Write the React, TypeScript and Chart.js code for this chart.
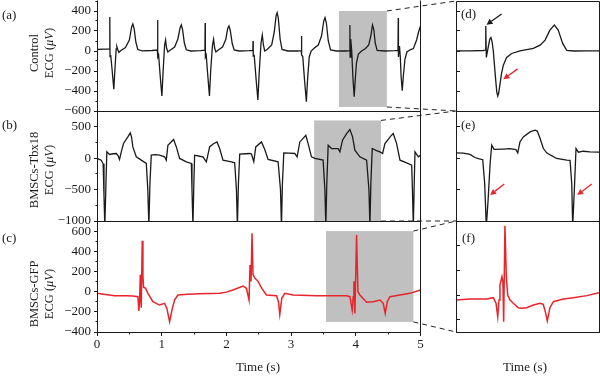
import React, { useEffect, useRef } from 'react';
import { Chart, registerables } from 'chart.js';

Chart.register(...registerables);

type Pt = [number, number];

// ---------------- data ----------------
const timeTicks = [0, 1, 2, 3, 4, 5];
const timeMinorTicks = [0.5, 1.5, 2.5, 3.5, 4.5];

const controlTicks = [-600, -400, -200, 0, 200, 400];
const controlMinorTicks = [-500, -300, -100, 100, 300, 500];
const tbx18Ticks = [-1000, -500, 0, 500];
const tbx18MinorTicks = [-750, -250, 250, 750];
const gfpTicks = [-400, -200, 0, 200, 400, 600];
const gfpMinorTicks = [-300, -100, 100, 300, 500, 700];
const gfpZoomTicks = [-200, 0, 200, 400];

const timeRange = [0, 5];
const controlRange = [-600, 500];
const tbx18Range = [-1000, 750];
const gfpRange = [-400, 700];
const gfpZoomRange = [-300, 600];

// magnified windows: [t0, t1, vLow, vHigh]
const controlWindow = [3.74, 4.48, -560, 400];
const tbx18Window = [3.356, 4.389, -1000, 600];
const gfpWindow = [3.54, 4.89, -300, 600];

const controlTrace: Pt[] = [
  [0, 15], [0.1, 18], [0.194, 20],
  [0.198, 340], [0.201, -57], [0.212, -40], [0.235, -200], [0.26, -383], [0.28, -150], [0.297, 20], [0.307, 43], [0.32, 15], [0.338, -13], [0.37, 5], [0.44, 35], [0.5, 110], [0.535, 240], [0.554, 270], [0.575, 220], [0.6, 90], [0.63, 15], [0.7, 2], [0.85, 5], [0.933, 10],
  [0.937, 310], [0.94, -60], [0.952, -40], [0.978, -260], [1.003, -450], [1.022, -200], [1.045, 60], [1.06, 110], [1.075, 30], [1.095, -10], [1.13, 8], [1.2, 40], [1.25, 120], [1.285, 235], [1.303, 260], [1.322, 215], [1.35, 80], [1.38, 12], [1.45, 0], [1.6, 4], [1.668, 8],
  [1.672, 280], [1.675, -60], [1.688, -40], [1.714, -260], [1.738, -450], [1.757, -200], [1.785, 60], [1.802, 117], [1.818, 30], [1.838, -10], [1.875, 10], [1.94, 40], [1.99, 115], [2.02, 225], [2.04, 250], [2.06, 205], [2.09, 75], [2.12, 10], [2.2, 0], [2.35, 3], [2.408, 5],
  [2.412, 100], [2.415, -50], [2.43, -45], [2.46, -290], [2.487, -490], [2.505, -240], [2.535, 80], [2.555, 160], [2.572, 60], [2.592, 0], [2.63, 15], [2.7, 60], [2.74, 190], [2.768, 350], [2.785, 383], [2.802, 330], [2.83, 120], [2.86, 15], [2.95, 0], [3.1, 0], [3.157, 3],
  [3.161, 150], [3.164, -40], [3.18, -55], [3.21, -310], [3.236, -507], [3.253, -300], [3.28, -60], [3.31, 0], [3.36, 30], [3.42, 60], [3.47, 150], [3.505, 300], [3.525, 333], [3.545, 280], [3.575, 100], [3.61, 10], [3.7, 0], [3.85, 0], [3.905, 3],
  [3.909, 260], [3.912, -60], [3.918, 40], [3.925, 120], [3.937, 0], [3.955, -260], [3.975, -457], [3.99, -300], [4.01, -120], [4.04, -30], [4.09, 0], [4.15, 25], [4.2, 60], [4.232, 150], [4.258, 260], [4.278, 215], [4.3, 80], [4.33, 5], [4.45, 0], [4.6, 3], [4.652, 5],
  [4.656, 330], [4.659, -60], [4.668, 10], [4.675, 50], [4.688, -60], [4.7, -250], [4.718, -397], [4.735, -250], [4.76, -80], [4.79, -10], [4.84, 12], [4.89, 25], [4.94, 110], [4.97, 190], [5.0, 250],
];

const tbx18Trace: Pt[] = [
  [0, -5], [0.065, -32], [0.095, -90], [0.108, -600], [0.121, -1080], [0.136, -500], [0.152, 100], [0.193, 58], [0.25, 70], [0.297, 74], [0.325, 40], [0.348, -21], [0.38, 120], [0.41, 233], [0.477, 338], [0.514, 401], [0.535, 330], [0.554, 179], [0.607, 21], [0.684, -32], [0.762, -85],
  [0.785, -500], [0.802, -1080], [0.818, -400], [0.839, 47], [0.9, 55], [0.967, 47], [1.045, 21], [1.071, -32], [1.096, 206], [1.184, 296], [1.226, 179], [1.277, -5], [1.381, -58], [1.458, -85],
  [1.468, -500], [1.483, -1080], [1.497, -400], [1.509, 47], [1.587, 30], [1.638, 21], [1.69, -58], [1.741, 179], [1.8, 230], [1.855, 258], [1.896, 153], [1.947, -32], [2.077, -58], [2.128, -74],
  [2.155, -500], [2.17, -1080], [2.186, -400], [2.206, 63], [2.3, 70], [2.361, 74], [2.387, 65], [2.423, -58], [2.454, 179], [2.542, 258], [2.593, 137], [2.644, -21], [2.799, -58],
  [2.836, -500], [2.851, -1080], [2.866, -400], [2.887, 84], [2.97, 80], [3.057, 74], [3.093, 21], [3.135, 258], [3.228, 364], [3.263, 232], [3.315, 21], [3.367, -5], [3.495, -32],
  [3.522, -500], [3.537, -1080], [3.552, -400], [3.573, 206], [3.625, 153], [3.728, 153], [3.754, 100], [3.795, 285], [3.858, 391], [3.909, 454], [3.95, 338], [3.986, 127], [4.063, 21], [4.167, -32],
  [4.203, -500], [4.218, -1080], [4.233, -400], [4.254, 153], [4.32, 120], [4.373, 100], [4.415, 74], [4.45, 232], [4.54, 350], [4.579, 391], [4.631, 232], [4.683, -32], [4.786, -74], [4.864, -111],
  [4.875, -500], [4.889, -1080], [4.903, -400], [4.915, 100], [4.966, 21], [5.0, 47],
];

const gfpTrace: Pt[] = [
  [0, -17], [0.1, -25], [0.271, -40], [0.45, -42], [0.554, -43], [0.632, -50], [0.647, -192], [0.658, -100], [0.669, 168], [0.676, 20], [0.684, -159], [0.699, 505], [0.71, 150], [0.72, 44], [0.751, 34], [0.787, -17], [0.864, -100], [0.967, -133], [1.045, -116], [1.08, -166], [1.122, -298], [1.164, -166], [1.2, -80], [1.251, -33], [1.4, -25], [1.587, -20], [1.896, -17], [2.0, -5], [2.102, 16], [2.257, 56], [2.309, 33], [2.35, -83], [2.365, 264], [2.381, 100], [2.396, 578], [2.412, 168], [2.438, 136], [2.489, 102], [2.55, 30], [2.619, -33], [2.774, -40], [2.805, -100], [2.825, -225], [2.856, -66], [2.902, -17], [3.031, -33], [3.393, -40], [3.858, -40], [3.909, -50], [3.944, -183], [3.96, -50], [3.971, 102], [3.986, -216], [4.012, 561], [4.033, -1], [4.063, -33], [4.167, -106], [4.269, -100], [4.373, -83], [4.424, -116], [4.455, -216], [4.486, -100], [4.528, -50], [4.683, -33], [4.837, -17], [5.0, 16],
];

const controlZoom: Pt[] = [
  [3.74, 2], [3.812, 2], [3.881, 5], [3.892, 8], [3.894, 249], [3.897, -65], [3.907, 42], [3.915, 120], [3.921, 136], [3.927, 90], [3.933, 2], [3.944, -259], [3.951, -410], [3.956, -450], [3.961, -420], [3.968, -326], [3.976, -220], [3.985, -142], [4.002, -65], [4.028, -25], [4.071, 2], [4.14, 26], [4.175, 59], [4.201, 109], [4.226, 209], [4.249, 259], [4.269, 209], [4.292, 76], [4.313, 6], [4.35, 0], [4.42, 2], [4.48, 2],
];

const tbx18Zoom: Pt[] = [
  [3.356, 84], [3.409, 80], [3.457, 60], [3.493, 10], [3.524, -12], [3.549, -25], [3.563, -400], [3.575, -1080], [3.587, -700], [3.602, -100], [3.614, 206], [3.631, 140], [3.698, 145], [3.746, 150], [3.789, 135], [3.802, 84], [3.818, 258], [3.842, 338], [3.891, 417], [3.927, 444], [3.943, 430], [3.963, 317], [3.987, 153], [4.011, 84], [4.04, 47], [4.083, -5], [4.156, -32], [4.18, -37], [4.192, -400], [4.199, -1080], [4.211, -500], [4.223, 153], [4.24, 95], [4.276, 110], [4.324, 100], [4.389, 95],
];

const gfpZoom: Pt[] = [
  [3.54, -41], [3.672, -33], [3.83, -33], [3.892, -22], [3.918, -67], [3.934, -176], [3.946, -40], [3.955, 81], [3.974, 148], [3.983, 105], [3.99, -217], [4.002, 562], [4.015, 150], [4.028, 0], [4.05, -41], [4.081, -67], [4.128, -103], [4.16, -108], [4.207, -103], [4.27, -81], [4.333, -67], [4.364, -75], [4.387, -149], [4.402, -211], [4.427, -103], [4.459, -54], [4.553, -33], [4.648, -22], [4.774, -5], [4.868, 14], [4.89, 19],
];

// ---------------- styles / layout ----------------
const SERIF = '"Liberation Serif", "Times New Roman", "DejaVu Serif", serif';
const INK = '#1a1a1a';
const RED = '#e8242a';
const GRAY = '#c0c0c0';
const W = 600;
const H = 376;

type Area = { left: number; top: number; right: number; bottom: number };
type Arrow = { from: Pt; to: Pt; color: string };

const controlZoomArrows: Arrow[] = [
  { from: [3.976, 370], to: [3.898, 262], color: INK },
  { from: [4.059, -179], to: [3.985, -282], color: RED },
];
const tbx18ZoomArrows: Arrow[] = [
  { from: [3.705, -413], to: [3.602, -587], color: RED },
  { from: [4.336, -413], to: [4.232, -587], color: RED },
];

const LEFT_X = [97, 420.5];
const RIGHT_X = [456, 599];
const ROWS = [[1, 111], [111, 221], [221, 332]];

interface PanelSpec {
  trace: Pt[];
  color: string;
  width: number;
  xRange: number[];
  yRange: number[];
  area: Area;
  yMajor: number[];
  yMinor: number[];
  yLabels: boolean;
  xMajor?: number[];
  xMinor?: number[];
  xLabels?: boolean;
  tickDir: number;
  sides: { top: boolean; right: boolean; bottom: boolean; left: boolean };
  window?: number[];
  linkTo?: Chart;
  arrows?: Arrow[];
}

const fmt = (v: number) => (v < 0 ? '\u2212' + Math.abs(v) : String(v));
const crisp = (v: number) => Math.round(v - 0.5) + 0.5;

function makeChart(canvas: HTMLCanvasElement, s: PanelSpec): Chart {
  const yAxisW = 40;
  const xAxisH = 20;
  const padding = {
    left: s.yLabels ? s.area.left - yAxisW : s.area.left,
    top: s.area.top,
    right: W - s.area.right,
    bottom: s.xLabels ? H - s.area.bottom - xAxisH : H - s.area.bottom,
  };
  const decor = {
    id: 'decor',
    beforeDatasetsDraw(chart: any) {
      if (!s.window) return;
      const { ctx, scales } = chart;
      const [t0, t1, v0, v1] = s.window;
      const px0 = scales.x.getPixelForValue(t0);
      const px1 = scales.x.getPixelForValue(t1);
      const py0 = scales.y.getPixelForValue(v1);
      const py1 = scales.y.getPixelForValue(v0);
      ctx.save();
      ctx.fillStyle = GRAY;
      ctx.fillRect(px0, py0, px1 - px0, py1 - py0);
      ctx.restore();
    },
    afterDraw(chart: any) {
      const { ctx, chartArea: a, scales } = chart;
      const x = scales.x;
      const y = scales.y;
      const L = crisp(a.left);
      const R = crisp(a.right);
      const T = crisp(a.top);
      const B = crisp(a.bottom);
      ctx.save();
      ctx.strokeStyle = INK;
      ctx.lineWidth = 1;
      ctx.beginPath();
      if (s.sides.left) { ctx.moveTo(L, s.sides.top ? T : T - 1); ctx.lineTo(L, B); }
      if (s.sides.right) { ctx.moveTo(R, s.sides.top ? T : T - 1); ctx.lineTo(R, B); }
      if (s.sides.top) { ctx.moveTo(L, T); ctx.lineTo(R, T); }
      if (s.sides.bottom) { ctx.moveTo(L - 0.5, B); ctx.lineTo(R + 0.5, B); }
      const yt = (vals: number[], len: number) => {
        vals.forEach((v) => {
          const py = crisp(y.getPixelForValue(v));
          ctx.moveTo(L, py);
          ctx.lineTo(L + s.tickDir * len, py);
        });
      };
      yt(s.yMajor, 3.5);
      yt(s.yMinor, 2);
      const xt = (vals: number[], len: number) => {
        vals.forEach((v) => {
          const px = crisp(x.getPixelForValue(v));
          ctx.moveTo(px, B);
          ctx.lineTo(px, B - s.tickDir * len);
        });
      };
      if (s.xMajor) xt(s.xMajor, 3.5);
      if (s.xMinor) xt(s.xMinor, 2);
      ctx.stroke();

      if (s.window && s.linkTo) {
        const r = s.linkTo.chartArea;
        const [, t1, v0, v1] = s.window;
        const px1 = x.getPixelForValue(t1);
        const pyTop = y.getPixelForValue(v1);
        const pyBot = y.getPixelForValue(v0);
        ctx.setLineDash([5, 4]);
        ctx.lineWidth = 1;
        ctx.strokeStyle = '#222';
        ctx.beginPath();
        ctx.moveTo(px1, pyTop);
        ctx.lineTo(r.left, r.top);
        ctx.moveTo(px1, pyBot);
        ctx.lineTo(r.left, r.bottom);
        ctx.stroke();
        ctx.setLineDash([]);
      }

      (s.arrows || []).forEach((ar) => {
        const x0 = x.getPixelForValue(ar.from[0]);
        const y0 = y.getPixelForValue(ar.from[1]);
        const x1 = x.getPixelForValue(ar.to[0]);
        const y1 = y.getPixelForValue(ar.to[1]);
        const ang = Math.atan2(y1 - y0, x1 - x0);
        const hl = 6;
        const hw = 3;
        const bx = x1 - hl * Math.cos(ang);
        const by = y1 - hl * Math.sin(ang);
        ctx.strokeStyle = ar.color;
        ctx.fillStyle = ar.color;
        ctx.lineWidth = 1.3;
        ctx.beginPath();
        ctx.moveTo(x0, y0);
        ctx.lineTo(bx, by);
        ctx.stroke();
        ctx.beginPath();
        ctx.moveTo(x1, y1);
        ctx.lineTo(bx + hw * Math.sin(ang), by - hw * Math.cos(ang));
        ctx.lineTo(bx - hw * Math.sin(ang), by + hw * Math.cos(ang));
        ctx.closePath();
        ctx.fill();
      });
      ctx.restore();
    },
  };

  const yAll = [...s.yMajor, ...s.yMinor].sort((p, q) => p - q);

  return new Chart(canvas, {
    type: 'line',
    data: {
      datasets: [
        {
          data: s.trace.map(([t, v]) => ({ x: t, y: v })),
          borderColor: s.color,
          borderWidth: s.width,
          pointRadius: 0,
          tension: 0,
          fill: false,
        },
      ],
    },
    options: {
      responsive: false,
      animation: false,
      devicePixelRatio: 1,
      events: [],
      layout: { padding, autoPadding: false },
      plugins: { legend: { display: false }, tooltip: { enabled: false } },
      scales: {
        x: {
          type: 'linear',
          min: s.xRange[0],
          max: s.xRange[1],
          display: !!s.xLabels,
          grid: { display: false, drawTicks: false },
          border: { display: false },
          afterBuildTicks: (sc: any) => {
            sc.ticks = (s.xMajor || []).map((v) => ({ value: v }));
          },
          afterFit: (sc: any) => {
            if (s.xLabels) {
              sc.height = xAxisH;
              sc.paddingLeft = 0;
              sc.paddingRight = 0;
            }
          },
          ticks: {
            padding: 5,
            maxRotation: 0,
            autoSkip: false,
            color: INK,
            font: { family: SERIF, size: 13 },
            callback: (v: any) => fmt(Number(v)),
          },
        },
        y: {
          type: 'linear',
          min: s.yRange[0],
          max: s.yRange[1],
          display: s.yLabels,
          grid: { display: false, drawTicks: false },
          border: { display: false },
          afterBuildTicks: (sc: any) => {
            sc.ticks = yAll.map((v) => ({ value: v }));
          },
          afterFit: (sc: any) => {
            if (s.yLabels) {
              sc.width = yAxisW;
              sc.paddingTop = 0;
              sc.paddingBottom = 0;
            }
          },
          ticks: {
            padding: 6,
            autoSkip: false,
            color: INK,
            font: { family: SERIF, size: 13 },
            callback: (v: any) => (s.yMajor.includes(Number(v)) ? fmt(Number(v)) : ''),
          },
        },
      },
    } as any,
    plugins: [decor as any],
  });
}

const leftArea = (i: number): Area => ({ left: LEFT_X[0], right: LEFT_X[1], top: ROWS[i][0], bottom: ROWS[i][1] });
const rightArea = (i: number): Area => ({ left: RIGHT_X[0], right: RIGHT_X[1], top: ROWS[i][0], bottom: ROWS[i][1] });

const abs = (extra: React.CSSProperties): React.CSSProperties => ({ position: 'absolute', whiteSpace: 'nowrap', ...extra });

function YTitle({ cx, cy, first }: { cx: number; cy: number; first: string }) {
  return (
    <div
      style={abs({
        left: cx - 60,
        top: cy - 15,
        width: 120,
        height: 30,
        fontSize: 12.5,
        lineHeight: '15px',
        textAlign: 'center',
        transform: 'rotate(-90deg)',
      })}
    >
      {first}
      <br />
      ECG (<i>μV</i>)
    </div>
  );
}

export default function App() {
  const r0 = useRef<HTMLCanvasElement>(null);
  const r1 = useRef<HTMLCanvasElement>(null);
  const r2 = useRef<HTMLCanvasElement>(null);
  const r3 = useRef<HTMLCanvasElement>(null);
  const r4 = useRef<HTMLCanvasElement>(null);
  const r5 = useRef<HTMLCanvasElement>(null);
  const refs = [r0, r1, r2, r3, r4, r5];

  useEffect(() => {
    const allSides = { top: true, right: true, bottom: true, left: true };
    const leftSides = { top: false, right: true, bottom: true, left: true };
    const d = makeChart(r3.current!, {
      trace: controlZoom, color: INK, width: 1.3, xRange: [controlWindow[0], controlWindow[1]], yRange: controlRange,
      area: rightArea(0), yMajor: controlTicks, yMinor: [], yLabels: false, tickDir: 1, sides: allSides, arrows: controlZoomArrows,
    });
    const e = makeChart(r4.current!, {
      trace: tbx18Zoom, color: INK, width: 1.3, xRange: [tbx18Window[0], tbx18Window[1]], yRange: tbx18Range,
      area: rightArea(1), yMajor: tbx18Ticks, yMinor: [], yLabels: false, tickDir: 1, sides: allSides, arrows: tbx18ZoomArrows,
    });
    const f = makeChart(r5.current!, {
      trace: gfpZoom, color: RED, width: 1.5, xRange: [gfpWindow[0], gfpWindow[1]], yRange: gfpZoomRange,
      area: rightArea(2), yMajor: gfpZoomTicks, yMinor: [], yLabels: false, tickDir: 1, sides: allSides,
    });
    const a = makeChart(r0.current!, {
      trace: controlTrace, color: INK, width: 1.3, xRange: timeRange, yRange: controlRange,
      area: leftArea(0), yMajor: controlTicks, yMinor: controlMinorTicks, yLabels: true, tickDir: -1, sides: leftSides,
      window: controlWindow, linkTo: d,
    });
    const b = makeChart(r1.current!, {
      trace: tbx18Trace, color: INK, width: 1.3, xRange: timeRange, yRange: tbx18Range,
      area: leftArea(1), yMajor: tbx18Ticks, yMinor: tbx18MinorTicks, yLabels: true, tickDir: -1, sides: leftSides,
      window: tbx18Window, linkTo: e,
    });
    const c = makeChart(r2.current!, {
      trace: gfpTrace, color: RED, width: 1.5, xRange: timeRange, yRange: gfpRange,
      area: leftArea(2), yMajor: gfpTicks, yMinor: gfpMinorTicks, yLabels: true,
      xMajor: timeTicks, xMinor: timeMinorTicks, xLabels: true, tickDir: -1, sides: leftSides,
      window: gfpWindow, linkTo: f,
    });
    const charts = [a, b, c, d, e, f];
    return () => charts.forEach((ch) => ch.destroy());
  }, []);

  return (
    <div
      style={{
        position: 'absolute',
        left: 0,
        top: 0,
        width: W,
        height: H,
        background: '#fff',
        fontFamily: SERIF,
        color: INK,
        overflow: 'hidden',
      }}
    >
      {refs.map((r, i) => (
        <canvas
          key={i}
          ref={r}
          width={W}
          height={H}
          style={{ position: 'absolute', left: 0, top: 0, width: W, height: H }}
        />
      ))}
      <div style={abs({ left: 2, top: 7, fontSize: 13, lineHeight: '16px' })}>(a)</div>
      <div style={abs({ left: 2, top: 117, fontSize: 13, lineHeight: '16px' })}>(b)</div>
      <div style={abs({ left: 2, top: 230, fontSize: 13, lineHeight: '16px' })}>(c)</div>
      <div style={abs({ left: 461, top: 6, fontSize: 13, lineHeight: '16px' })}>(d)</div>
      <div style={abs({ left: 461, top: 117, fontSize: 13, lineHeight: '16px' })}>(e)</div>
      <div style={abs({ left: 462, top: 230, fontSize: 13, lineHeight: '16px' })}>(f)</div>
      <YTitle cx={41.5} cy={53} first="Control" />
      <YTitle cx={41.5} cy={170} first="BMSCs-Tbx18" />
      <YTitle cx={41.5} cy={294} first="BMSCs-GFP" />
      <div style={abs({ left: 218, top: 359, width: 80, textAlign: 'center', fontSize: 13, lineHeight: '16px' })}>Time (s)</div>
      <div style={abs({ left: 485, top: 359, width: 80, textAlign: 'center', fontSize: 13, lineHeight: '16px' })}>Time (s)</div>
    </div>
  );
}
